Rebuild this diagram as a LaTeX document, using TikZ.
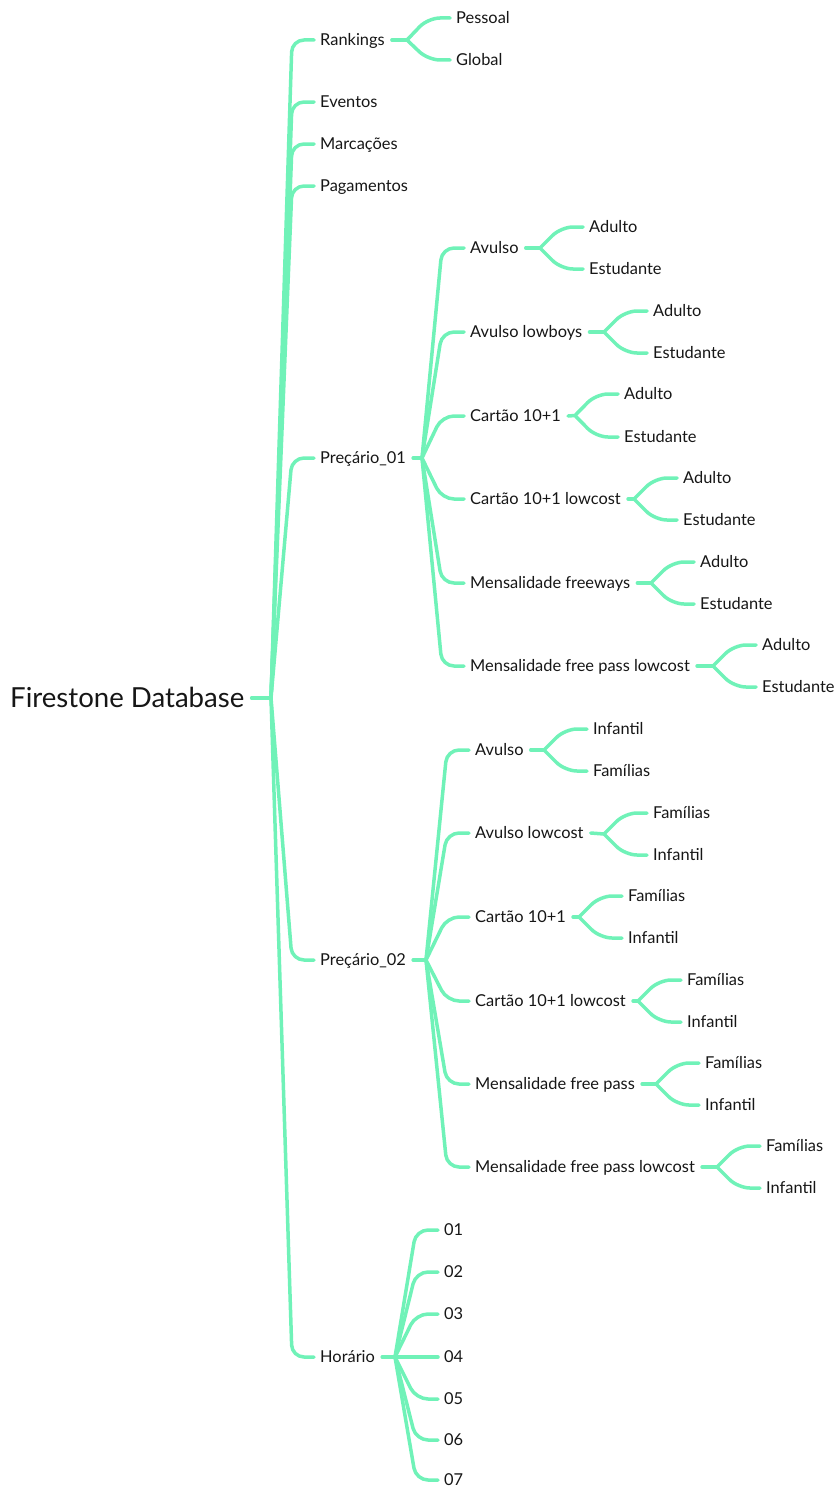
\documentclass[tikz,border=0pt]{standalone}
\usepackage{fontspec}
\setmainfont{Lato}
\usetikzlibrary{calc}
\definecolor{branch}{RGB}{112,242,184}
\definecolor{ink}{RGB}{22,22,22}
% draw one branch from a junction to the stub in front of a child topic
\newcommand\branchto[2]{\draw[edge] (#1) -- ($(#2.west)+(-28,0)$) -- ($(#2.west)+(-6,0)$);}
% stub from a parent topic to its junction
\newcommand\stubto[2]{\draw[edge] ($(#1.east)+(7,0)$) -- (#2);}
\begin{document}
\begin{tikzpicture}[x=1pt,y=-1pt,
  topic/.style={anchor=west,inner sep=0pt,text height=11.7pt,text depth=0pt,
    font=\fontsize{16.4}{19}\selectfont,text=ink},
  roottopic/.style={anchor=west,inner sep=0pt,text height=19.7pt,text depth=0pt,
    font=\fontsize{27.6}{31}\selectfont,text=ink},
  edge/.style={draw=branch,line width=3.5pt,line cap=round,line join=round,rounded corners=12pt}]
\useasboundingbox (0,0) rectangle (834,1488);

% root
\node[roottopic] (root) at (10,698) {Firestone Database};
\coordinate (jroot) at (271,698);
\stubto{root}{jroot}

% first level
\node[topic] (rank) at (320,40) {Rankings};
\node[topic] (even) at (320,102) {Eventos};
\node[topic] (marc) at (320,144) {Marcações};
\node[topic] (pag) at (320,186) {Pagamentos};
\node[topic] (pa) at (320,458) {Preçário\_01};
\node[topic] (pb) at (320,960) {Preçário\_02};
\node[topic] (hor) at (320,1357) {Horário};
\foreach \c in {rank,even,marc,pag,pa,pb,hor}{\branchto{jroot}{\c}}

% Rankings
\node[topic] (rank1) at (456,18) {Pessoal};
\node[topic] (rank2) at (456,60) {Global};
\coordinate (jrank) at (407,40);
\stubto{rank}{jrank}
\branchto{jrank}{rank1}\branchto{jrank}{rank2}

% Preçário_01
\coordinate (jpa) at (422,458);
\stubto{pa}{jpa}
\node[topic] (pa1) at (470,248) {Avulso};
\node[topic] (pa2) at (470,332) {Avulso lowboys};
\node[topic] (pa3) at (470,416) {Cartão 10+1};
\node[topic] (pa4) at (470,499) {Cartão 10+1 lowcost};
\node[topic] (pa5) at (470,583) {Mensalidade freeways};
\node[topic] (pa6) at (470,666) {Mensalidade free pass lowcost};
\foreach \c in {pa1,pa2,pa3,pa4,pa5,pa6}{\branchto{jpa}{\c}}

\foreach \p/\x/\ya/\yb in {pa1/589/227/269, pa2/653/311/353, pa3/624/394/437,
                          pa4/683/478/520, pa5/700/562/604, pa6/762/645/687}{
  \node[topic] (\p a) at (\x,\ya) {Adulto};
  \node[topic] (\p b) at (\x,\yb) {Estudante};
  \coordinate (j\p) at (\x-49,{(\ya+\yb)/2});
  \stubto{\p}{j\p}
  \branchto{j\p}{\p a}\branchto{j\p}{\p b}
}

% Preçário_02
\coordinate (jpb) at (426,960);
\stubto{pb}{jpb}
\node[topic] (pb1) at (475,750) {Avulso};
\node[topic] (pb2) at (475,833) {Avulso lowcost};
\node[topic] (pb3) at (475,917) {Cartão 10+1};
\node[topic] (pb4) at (475,1001) {Cartão 10+1 lowcost};
\node[topic] (pb5) at (475,1084) {Mensalidade free pass};
\node[topic] (pb6) at (475,1167) {Mensalidade free pass lowcost};
\foreach \c in {pb1,pb2,pb3,pb4,pb5,pb6}{\branchto{jpb}{\c}}

\node[topic] (pb1a) at (593,729) {Infantil};
\node[topic] (pb1b) at (593,771) {Famílias};
\foreach \p/\x/\ya/\yb in {pb2/653/813/855, pb3/628/896/938, pb4/687/980/1022,
                          pb5/705/1063/1105, pb6/766/1146/1188}{
  \node[topic] (\p a) at (\x,\ya) {Famílias};
  \node[topic] (\p b) at (\x,\yb) {Infantil};
}
\foreach \p/\x/\y in {pb1/593/750, pb2/653/834, pb3/628/917, pb4/687/1001, pb5/705/1084, pb6/766/1167}{
  \coordinate (j\p) at (\x-49,\y);
  \stubto{\p}{j\p}
  \branchto{j\p}{\p a}\branchto{j\p}{\p b}
}

% Horário
\coordinate (jhor) at (395,1357);
\stubto{hor}{jhor}
\foreach \n/\y in {01/1230,02/1272,03/1314,04/1357,05/1399,06/1440,07/1480}{
  \node[topic] (h\n) at (444,\y) {\n};
  \branchto{jhor}{h\n}
}
\end{tikzpicture}
\end{document}
